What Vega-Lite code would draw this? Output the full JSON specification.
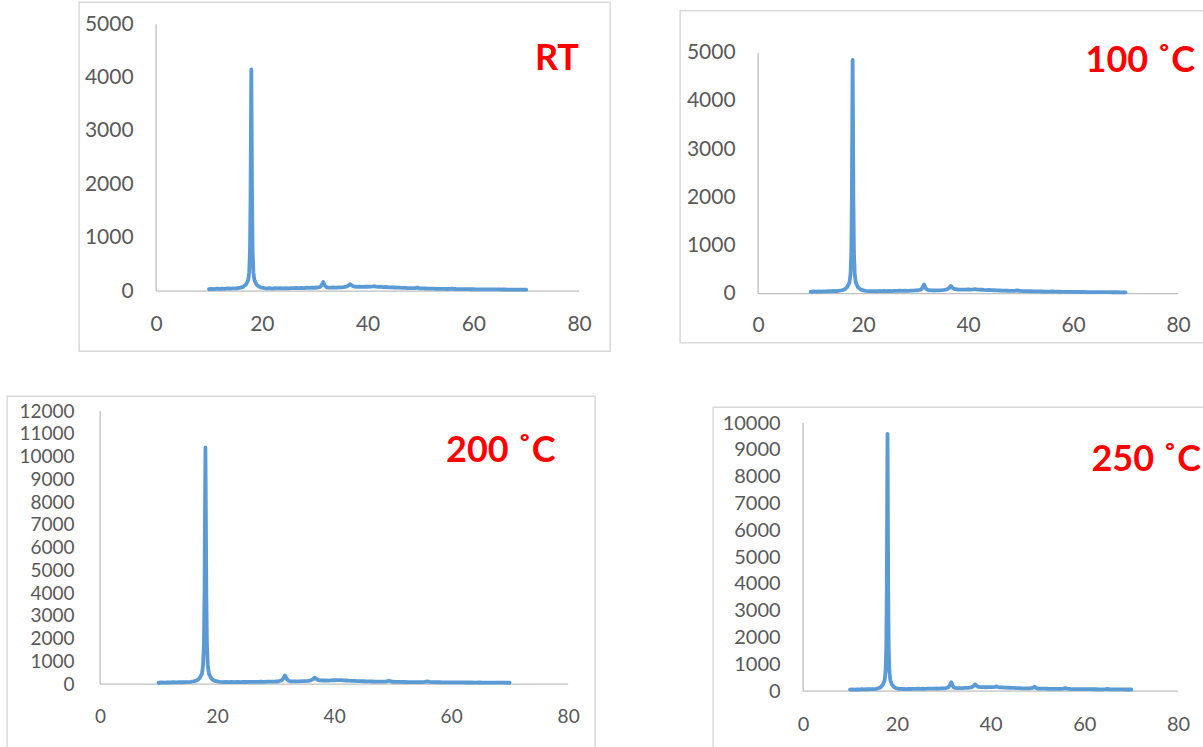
{
  "$schema": "https://vega.github.io/schema/vega-lite/v6.json",
  "padding": {"left": 6, "top": 1, "right": 0, "bottom": 0},
  "background": "white",
  "config": {
    "view": {"stroke": "#D9D9D9", "strokeWidth": 1.5},
    "axis": {"domain": false, "ticks": false, "grid": false, "labelFont": "Lato", "labelColor": "#595959", "title": null, "labelFlush": false, "labelOverlap": false, "format": "d"}
  },
  "datasets": {
    "xrd": [
      {"x":10,"a":35,"b":38,"c":60,"d":55},
      {"x":10.5,"a":42,"b":44,"c":75,"d":62},
      {"x":11,"a":38,"b":40,"c":68,"d":58},
      {"x":11.5,"a":45,"b":47,"c":80,"d":66},
      {"x":12,"a":40,"b":43,"c":72,"d":60},
      {"x":12.5,"a":47,"b":48,"c":84,"d":70},
      {"x":13,"a":43,"b":45,"c":78,"d":64},
      {"x":13.5,"a":50,"b":52,"c":88,"d":74},
      {"x":14,"a":46,"b":49,"c":82,"d":70},
      {"x":14.5,"a":52,"b":55,"c":92,"d":78},
      {"x":15,"a":50,"b":52,"c":90,"d":76},
      {"x":15.5,"a":58,"b":60,"c":102,"d":88},
      {"x":16,"a":66,"b":70,"c":120,"d":104},
      {"x":16.5,"a":84,"b":92,"c":160,"d":140},
      {"x":17,"a":125,"b":140,"c":260,"d":235},
      {"x":17.4,"a":200,"b":230,"c":450,"d":410},
      {"x":17.6,"a":350,"b":400,"c":840,"d":770},
      {"x":17.75,"a":750,"b":870,"c":1850,"d":1700},
      {"x":17.85,"a":1670,"b":1940,"c":4150,"d":3840},
      {"x":17.93,"a":3100,"b":3620,"c":7780,"d":7190},
      {"x":18,"a":4150,"b":4850,"c":10400,"d":9600},
      {"x":18.07,"a":3100,"b":3620,"c":7780,"d":7190},
      {"x":18.15,"a":1670,"b":1940,"c":4150,"d":3840},
      {"x":18.25,"a":750,"b":870,"c":1850,"d":1700},
      {"x":18.4,"a":350,"b":400,"c":840,"d":770},
      {"x":18.6,"a":200,"b":230,"c":450,"d":410},
      {"x":19,"a":120,"b":135,"c":250,"d":225},
      {"x":19.5,"a":82,"b":88,"c":150,"d":135},
      {"x":20,"a":64,"b":68,"c":118,"d":100},
      {"x":20.5,"a":56,"b":58,"c":100,"d":88},
      {"x":21,"a":50,"b":54,"c":92,"d":80},
      {"x":21.5,"a":55,"b":50,"c":96,"d":84},
      {"x":22,"a":48,"b":53,"c":88,"d":78},
      {"x":22.5,"a":54,"b":49,"c":95,"d":83},
      {"x":23,"a":50,"b":54,"c":90,"d":80},
      {"x":23.5,"a":56,"b":51,"c":97,"d":86},
      {"x":24,"a":52,"b":55,"c":92,"d":82},
      {"x":24.5,"a":57,"b":52,"c":99,"d":88},
      {"x":25,"a":53,"b":56,"c":94,"d":84},
      {"x":25.5,"a":58,"b":53,"c":100,"d":90},
      {"x":26,"a":55,"b":58,"c":96,"d":86},
      {"x":26.5,"a":59,"b":55,"c":102,"d":92},
      {"x":27,"a":56,"b":60,"c":98,"d":90},
      {"x":27.5,"a":61,"b":57,"c":105,"d":95},
      {"x":28,"a":58,"b":62,"c":102,"d":92},
      {"x":28.5,"a":63,"b":59,"c":108,"d":98},
      {"x":29,"a":60,"b":64,"c":106,"d":96},
      {"x":29.5,"a":65,"b":62,"c":112,"d":102},
      {"x":30,"a":63,"b":66,"c":115,"d":105},
      {"x":30.5,"a":68,"b":70,"c":125,"d":115},
      {"x":31,"a":78,"b":82,"c":160,"d":145},
      {"x":31.3,"a":110,"b":120,"c":250,"d":220},
      {"x":31.5,"a":150,"b":170,"c":340,"d":300},
      {"x":31.6,"a":170,"b":190,"c":380,"d":330},
      {"x":31.7,"a":150,"b":168,"c":335,"d":295},
      {"x":31.9,"a":105,"b":115,"c":230,"d":205},
      {"x":32.2,"a":75,"b":80,"c":150,"d":135},
      {"x":32.5,"a":66,"b":70,"c":125,"d":115},
      {"x":33,"a":64,"b":67,"c":120,"d":110},
      {"x":33.5,"a":68,"b":65,"c":124,"d":114},
      {"x":34,"a":66,"b":69,"c":122,"d":112},
      {"x":34.5,"a":70,"b":68,"c":128,"d":118},
      {"x":35,"a":70,"b":72,"c":130,"d":122},
      {"x":35.5,"a":75,"b":78,"c":140,"d":130},
      {"x":36,"a":85,"b":90,"c":165,"d":150},
      {"x":36.4,"a":105,"b":120,"c":220,"d":195},
      {"x":36.6,"a":125,"b":150,"c":270,"d":240},
      {"x":36.7,"a":130,"b":160,"c":285,"d":250},
      {"x":36.8,"a":125,"b":150,"c":270,"d":238},
      {"x":37,"a":108,"b":122,"c":225,"d":200},
      {"x":37.3,"a":92,"b":100,"c":180,"d":165},
      {"x":37.5,"a":86,"b":92,"c":168,"d":155},
      {"x":38,"a":82,"b":86,"c":160,"d":148},
      {"x":38.5,"a":84,"b":84,"c":162,"d":150},
      {"x":39,"a":80,"b":85,"c":158,"d":145},
      {"x":39.5,"a":83,"b":82,"c":165,"d":150},
      {"x":40,"a":82,"b":86,"c":170,"d":148},
      {"x":40.5,"a":85,"b":84,"c":172,"d":152},
      {"x":41,"a":88,"b":88,"c":175,"d":160},
      {"x":41.3,"a":92,"b":95,"c":180,"d":175},
      {"x":41.6,"a":84,"b":86,"c":168,"d":150},
      {"x":42,"a":80,"b":82,"c":160,"d":142},
      {"x":42.5,"a":78,"b":80,"c":150,"d":138},
      {"x":43,"a":75,"b":76,"c":145,"d":132},
      {"x":43.5,"a":77,"b":74,"c":140,"d":130},
      {"x":44,"a":72,"b":75,"c":135,"d":126},
      {"x":44.5,"a":70,"b":72,"c":130,"d":122},
      {"x":45,"a":68,"b":70,"c":126,"d":118},
      {"x":45.5,"a":66,"b":67,"c":122,"d":115},
      {"x":46,"a":64,"b":65,"c":118,"d":112},
      {"x":46.5,"a":62,"b":63,"c":115,"d":108},
      {"x":47,"a":60,"b":62,"c":112,"d":106},
      {"x":47.5,"a":58,"b":60,"c":110,"d":104},
      {"x":48,"a":56,"b":58,"c":108,"d":102},
      {"x":48.5,"a":55,"b":57,"c":110,"d":108},
      {"x":49,"a":58,"b":60,"c":125,"d":125},
      {"x":49.4,"a":66,"b":68,"c":150,"d":165},
      {"x":49.7,"a":56,"b":58,"c":118,"d":115},
      {"x":50,"a":52,"b":55,"c":104,"d":98},
      {"x":50.5,"a":50,"b":53,"c":100,"d":95},
      {"x":51,"a":49,"b":52,"c":98,"d":92},
      {"x":51.5,"a":48,"b":50,"c":96,"d":90},
      {"x":52,"a":46,"b":49,"c":94,"d":88},
      {"x":52.5,"a":45,"b":48,"c":92,"d":86},
      {"x":53,"a":44,"b":46,"c":90,"d":85},
      {"x":53.5,"a":43,"b":45,"c":88,"d":84},
      {"x":54,"a":42,"b":44,"c":87,"d":82},
      {"x":54.5,"a":41,"b":43,"c":86,"d":81},
      {"x":55,"a":40,"b":42,"c":88,"d":82},
      {"x":55.5,"a":42,"b":43,"c":95,"d":90},
      {"x":56,"a":48,"b":47,"c":118,"d":110},
      {"x":56.3,"a":44,"b":44,"c":100,"d":96},
      {"x":56.7,"a":40,"b":41,"c":88,"d":84},
      {"x":57,"a":39,"b":40,"c":85,"d":80},
      {"x":57.5,"a":38,"b":39,"c":83,"d":78},
      {"x":58,"a":37,"b":38,"c":82,"d":77},
      {"x":58.5,"a":36,"b":37,"c":80,"d":76},
      {"x":59,"a":36,"b":37,"c":79,"d":75},
      {"x":59.5,"a":35,"b":36,"c":78,"d":74},
      {"x":60,"a":35,"b":36,"c":77,"d":73},
      {"x":60.5,"a":34,"b":35,"c":76,"d":72},
      {"x":61,"a":34,"b":35,"c":75,"d":72},
      {"x":61.5,"a":33,"b":34,"c":74,"d":71},
      {"x":62,"a":33,"b":34,"c":73,"d":70},
      {"x":62.5,"a":32,"b":33,"c":72,"d":70},
      {"x":63,"a":32,"b":33,"c":72,"d":69},
      {"x":63.5,"a":31,"b":32,"c":71,"d":68},
      {"x":64,"a":31,"b":32,"c":70,"d":68},
      {"x":64.5,"a":31,"b":32,"c":72,"d":72},
      {"x":65,"a":32,"b":33,"c":78,"d":80},
      {"x":65.3,"a":30,"b":32,"c":70,"d":70},
      {"x":65.7,"a":30,"b":31,"c":68,"d":66},
      {"x":66,"a":30,"b":31,"c":67,"d":65},
      {"x":66.5,"a":29,"b":30,"c":66,"d":64},
      {"x":67,"a":29,"b":30,"c":65,"d":64},
      {"x":67.5,"a":28,"b":29,"c":64,"d":63},
      {"x":68,"a":28,"b":29,"c":63,"d":62},
      {"x":68.5,"a":28,"b":29,"c":62,"d":62},
      {"x":69,"a":27,"b":28,"c":62,"d":61},
      {"x":69.5,"a":27,"b":28,"c":61,"d":60},
      {"x":70,"a":27,"b":28,"c":60,"d":60}
    ]
  },
  "vconcat": [
    {
      "hconcat": [
        {
          "width": 531, "height": 349,
          "layer": [
            {
              "data": {"values": [{"x":0,"y":0,"x2":80,"y2":0},{"x":0,"y":0,"x2":0,"y2":5000}]},
              "mark": {"type": "rule", "color": "#BFBFBF", "strokeWidth": 1.3},
              "encoding": {
                "x": {"field": "x", "type": "quantitative", "scale": {"domain": [-14.563, 85.863], "nice": false, "zero": false}, "axis": {"values": [0,20,40,60,80], "offset": -60, "labelPadding": 22, "labelFontSize": 21}},
                "x2": {"field": "x2"},
                "y": {"field": "y", "type": "quantitative", "scale": {"domain": [-1123.6, 5412], "nice": false, "zero": false}, "axis": {"values": [0,1000,2000,3000,4000,5000], "offset": -77, "labelPadding": 23, "labelFontSize": 21}},
                "y2": {"field": "y2"}
              }
            },
            {
              "data": {"name": "xrd"},
              "mark": {"type": "line", "color": "#5B9BD5", "strokeWidth": 3.8, "strokeJoin": "round", "strokeCap": "round"},
              "encoding": {
                "x": {"field": "x", "type": "quantitative", "scale": {"domain": [-14.563, 85.863], "nice": false, "zero": false}, "axis": {"values": [0,20,40,60,80], "offset": -60, "labelPadding": 22, "labelFontSize": 21}},
                "y": {"field": "a", "type": "quantitative", "scale": {"domain": [-1123.6, 5412], "nice": false, "zero": false}, "axis": {"values": [0,1000,2000,3000,4000,5000], "offset": -77, "labelPadding": 23, "labelFontSize": 21}}
              }
            },
            {
              "data": {"values": [{"x": 75.8, "y": 4345, "label": "RT"}]},
              "mark": {"type": "text", "font": "Lato", "fontWeight": "bold", "fontSize": 36, "color": "#FF0000", "align": "center", "baseline": "middle"},
              "encoding": {
                "x": {"field": "x", "type": "quantitative", "scale": {"domain": [-14.563, 85.863], "nice": false, "zero": false}, "axis": {"values": [0,20,40,60,80], "offset": -60, "labelPadding": 22, "labelFontSize": 21}},
                "y": {"field": "y", "type": "quantitative", "scale": {"domain": [-1123.6, 5412], "nice": false, "zero": false}, "axis": {"values": [0,1000,2000,3000,4000,5000], "offset": -77, "labelPadding": 23, "labelFontSize": 21}},
                "text": {"field": "label"}
              }
            }
          ]
        },
        {
          "width": 560, "height": 332,
          "layer": [
            {
              "data": {"values": [{"x":0,"y":0,"x2":80,"y2":0},{"x":0,"y":0,"x2":0,"y2":5000}]},
              "mark": {"type": "rule", "color": "#BFBFBF", "strokeWidth": 1.3},
              "encoding": {
                "x": {"field": "x", "type": "quantitative", "scale": {"domain": [-14.857, 91.81], "nice": false, "zero": false}, "axis": {"values": [0,20,40,60,80], "offset": -49, "labelPadding": 21, "labelFontSize": 21}},
                "x2": {"field": "x2"},
                "y": {"field": "y", "type": "quantitative", "scale": {"domain": [-1016.6, 5871.4], "nice": false, "zero": false}, "axis": {"values": [0,1000,2000,3000,4000,5000], "offset": -78, "labelPadding": 23, "labelFontSize": 21}},
                "y2": {"field": "y2"}
              }
            },
            {
              "data": {"name": "xrd"},
              "mark": {"type": "line", "color": "#5B9BD5", "strokeWidth": 3.8, "strokeJoin": "round", "strokeCap": "round"},
              "encoding": {
                "x": {"field": "x", "type": "quantitative", "scale": {"domain": [-14.857, 91.81], "nice": false, "zero": false}, "axis": {"values": [0,20,40,60,80], "offset": -49, "labelPadding": 21, "labelFontSize": 21}},
                "y": {"field": "b", "type": "quantitative", "scale": {"domain": [-1016.6, 5871.4], "nice": false, "zero": false}, "axis": {"values": [0,1000,2000,3000,4000,5000], "offset": -78, "labelPadding": 23, "labelFontSize": 21}}
              }
            },
            {
              "data": {"values": [{"x": 72.8, "y": 4834, "label": "100 ˚C"}]},
              "mark": {"type": "text", "font": "Lato", "fontWeight": "bold", "fontSize": 36, "color": "#FF0000", "align": "center", "baseline": "middle"},
              "encoding": {
                "x": {"field": "x", "type": "quantitative", "scale": {"domain": [-14.857, 91.81], "nice": false, "zero": false}, "axis": {"values": [0,20,40,60,80], "offset": -49, "labelPadding": 21, "labelFontSize": 21}},
                "y": {"field": "y", "type": "quantitative", "scale": {"domain": [-1016.6, 5871.4], "nice": false, "zero": false}, "axis": {"values": [0,1000,2000,3000,4000,5000], "offset": -78, "labelPadding": 23, "labelFontSize": 21}},
                "text": {"field": "label"}
              }
            }
          ]
        }
      ],
      "spacing": 68,
      "center": true
    },
    {
      "hconcat": [
        {
          "width": 588, "height": 370,
          "layer": [
            {
              "data": {"values": [{"x":0,"y":0,"x2":80,"y2":0},{"x":0,"y":0,"x2":0,"y2":12000}]},
              "mark": {"type": "rule", "color": "#BFBFBF", "strokeWidth": 1.3},
              "encoding": {
                "x": {"field": "x", "type": "quantitative", "scale": {"domain": [-15.897, 84.615], "nice": false, "zero": false}, "axis": {"values": [0,20,40,60,80], "offset": -82, "labelPadding": 23, "labelFontSize": 19}},
                "x2": {"field": "x2"},
                "y": {"field": "y", "type": "quantitative", "scale": {"domain": [-3604.4, 12659.3], "nice": false, "zero": false}, "axis": {"values": [0,1000,2000,3000,4000,5000,6000,7000,8000,9000,10000,11000,12000], "offset": -93, "labelPadding": 26, "labelFontSize": 19}},
                "y2": {"field": "y2"}
              }
            },
            {
              "data": {"name": "xrd"},
              "mark": {"type": "line", "color": "#5B9BD5", "strokeWidth": 3.8, "strokeJoin": "round", "strokeCap": "round"},
              "encoding": {
                "x": {"field": "x", "type": "quantitative", "scale": {"domain": [-15.897, 84.615], "nice": false, "zero": false}, "axis": {"values": [0,20,40,60,80], "offset": -82, "labelPadding": 23, "labelFontSize": 19}},
                "y": {"field": "c", "type": "quantitative", "scale": {"domain": [-3604.4, 12659.3], "nice": false, "zero": false}, "axis": {"values": [0,1000,2000,3000,4000,5000,6000,7000,8000,9000,10000,11000,12000], "offset": -93, "labelPadding": 26, "labelFontSize": 19}}
              }
            },
            {
              "data": {"values": [{"x": 68.5, "y": 10242, "label": "200 ˚C"}]},
              "mark": {"type": "text", "font": "Lato", "fontWeight": "bold", "fontSize": 36, "color": "#FF0000", "align": "center", "baseline": "middle"},
              "encoding": {
                "x": {"field": "x", "type": "quantitative", "scale": {"domain": [-15.897, 84.615], "nice": false, "zero": false}, "axis": {"values": [0,20,40,60,80], "offset": -82, "labelPadding": 23, "labelFontSize": 19}},
                "y": {"field": "y", "type": "quantitative", "scale": {"domain": [-3604.4, 12659.3], "nice": false, "zero": false}, "axis": {"values": [0,1000,2000,3000,4000,5000,6000,7000,8000,9000,10000,11000,12000], "offset": -93, "labelPadding": 26, "labelFontSize": 19}},
                "text": {"field": "label"}
              }
            }
          ]
        },
        {
          "width": 599, "height": 348,
          "layer": [
            {
              "data": {"values": [{"x":0,"y":0,"x2":80,"y2":0},{"x":0,"y":0,"x2":0,"y2":10000}]},
              "mark": {"type": "rule", "color": "#BFBFBF", "strokeWidth": 1.3},
              "encoding": {
                "x": {"field": "x", "type": "quantitative", "scale": {"domain": [-19.2, 108.59], "nice": false, "zero": false}, "axis": {"values": [0,20,40,60,80], "offset": -64, "labelPadding": 23, "labelFontSize": 20}},
                "x2": {"field": "x2"},
                "y": {"field": "y", "type": "quantitative", "scale": {"domain": [-2388, 10597], "nice": false, "zero": false}, "axis": {"values": [0,1000,2000,3000,4000,5000,6000,7000,8000,9000,10000], "offset": -90, "labelPadding": 23, "labelFontSize": 20}},
                "y2": {"field": "y2"}
              }
            },
            {
              "data": {"name": "xrd"},
              "mark": {"type": "line", "color": "#5B9BD5", "strokeWidth": 3.8, "strokeJoin": "round", "strokeCap": "round"},
              "encoding": {
                "x": {"field": "x", "type": "quantitative", "scale": {"domain": [-19.2, 108.59], "nice": false, "zero": false}, "axis": {"values": [0,20,40,60,80], "offset": -64, "labelPadding": 23, "labelFontSize": 20}},
                "y": {"field": "d", "type": "quantitative", "scale": {"domain": [-2388, 10597], "nice": false, "zero": false}, "axis": {"values": [0,1000,2000,3000,4000,5000,6000,7000,8000,9000,10000], "offset": -90, "labelPadding": 23, "labelFontSize": 20}}
              }
            },
            {
              "data": {"values": [{"x": 73.2, "y": 8619, "label": "250 ˚C"}]},
              "mark": {"type": "text", "font": "Lato", "fontWeight": "bold", "fontSize": 36, "color": "#FF0000", "align": "center", "baseline": "middle"},
              "encoding": {
                "x": {"field": "x", "type": "quantitative", "scale": {"domain": [-19.2, 108.59], "nice": false, "zero": false}, "axis": {"values": [0,20,40,60,80], "offset": -64, "labelPadding": 23, "labelFontSize": 20}},
                "y": {"field": "y", "type": "quantitative", "scale": {"domain": [-2388, 10597], "nice": false, "zero": false}, "axis": {"values": [0,1000,2000,3000,4000,5000,6000,7000,8000,9000,10000], "offset": -90, "labelPadding": 23, "labelFontSize": 20}},
                "text": {"field": "label"}
              }
            }
          ]
        }
      ],
      "spacing": 116,
      "center": true
    }
  ],
  "spacing": 43,
  "center": true
}
